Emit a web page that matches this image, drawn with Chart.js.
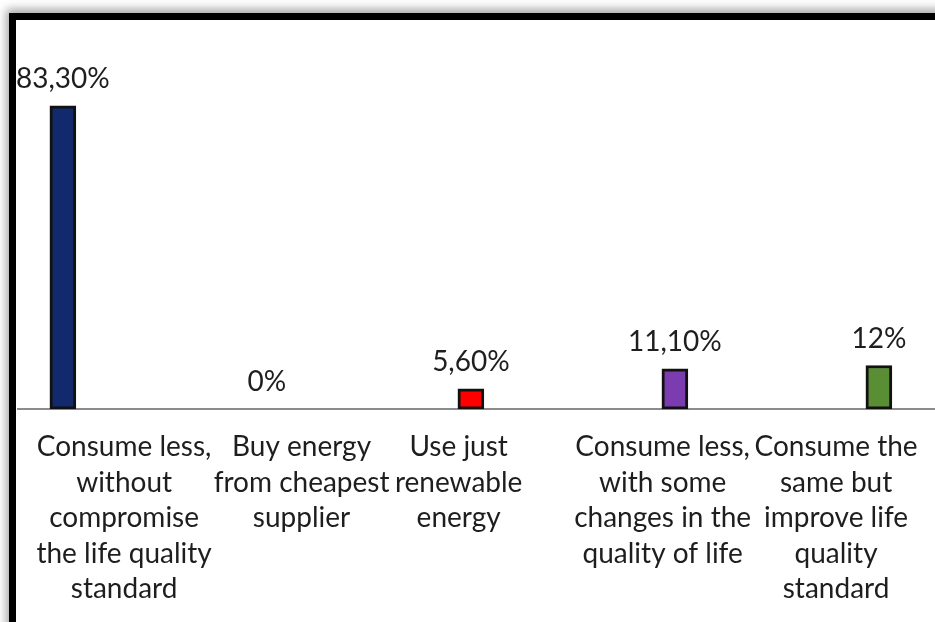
<!DOCTYPE html>
<html>
<head>
<meta charset="utf-8">
<title>Energy behaviour survey</title>
<script src="https://cdn.jsdelivr.net/npm/chart.js@4.4.1/dist/chart.umd.min.js"></script>
<style>
  html, body { margin: 0; padding: 0; background: #fff; overflow: hidden; }
  #frame {
    position: absolute; left: 9px; top: 13px; width: 1000px; height: 700px;
    border-left: 7px solid #000; border-top: 7px solid #000;
    box-shadow: -3px -4px 9px rgba(0, 0, 0, 0.35);
  }
  #chart { position: absolute; left: 0; top: 0; }
</style>
</head>
<body>
<div id="frame"></div>
<canvas id="chart" width="935" height="627"></canvas>
<script>
// answers, already wrapped the way they show under the axis
const categories = [
  ['Consume less,', 'without', 'compromise', 'the life quality', 'standard'],
  ['Buy energy', 'from cheapest', 'supplier'],
  ['Use just', 'renewable', 'energy'],
  ['Consume less,', 'with some', 'changes in the', 'quality of life'],
  ['Consume the', 'same but', 'improve life', 'quality', 'standard']
];
const values = [83.3, 0, 5.6, 11.1, 12];   // % of answers
const barColors = ['#122a6c', '#9e9e9e', '#ff0000', '#7b3cb0', '#5a8e34'];

// labels don't sit right under their bars, they get nudged to fit (category units)
const labelSpots = [0.30, 1.17, 1.94, 2.94, 3.79];

const fontFamily = 'Lato, "Open Sans", sans-serif';

function pct(v) {
  return Number.isInteger(v) ? v + '%' : v.toFixed(2).replace('.', ',') + '%';
}

// value text above every bar
const valueLabels = {
  id: 'valueLabels',
  afterDatasetsDraw(chart) {
    const ctx = chart.ctx;
    const meta = chart.getDatasetMeta(0);
    ctx.save();
    ctx.font = '28px ' + fontFamily;
    ctx.fillStyle = '#1e1e1e';
    ctx.textAlign = 'center';
    ctx.textBaseline = 'middle';
    meta.data.forEach((bar, i) => {
      ctx.fillText(pct(values[i]), bar.x, bar.y - 27);
    });
    ctx.restore();
  }
};

new Chart(document.getElementById('chart'), {
  type: 'bar',
  data: {
    datasets: [{
      data: values.map((v, i) => ({ x: i, y: v })),
      backgroundColor: barColors,
      borderColor: '#111',
      borderWidth: 3,
      borderSkipped: false,
      barThickness: 26
    }]
  },
  options: {
    responsive: false,
    animation: false,
    layout: { padding: { left: 18, top: 45, right: 0, bottom: 0 } },
    plugins: {
      legend: { display: false },
      tooltip: { enabled: false }
    },
    scales: {
      x: {
        type: 'linear',
        offset: false,
        min: -0.22,
        max: 4.275,
        grid: { display: false, drawTicks: false },
        border: { color: '#8c8c8c', width: 2 },
        afterBuildTicks: axis => {
          axis.ticks = labelSpots.map(v => ({ value: v }));
        },
        // labels stay inside the frame, no extra room needed at the ends
        afterFit: axis => {
          axis.paddingLeft = 0;
          axis.paddingRight = 0;
        },
        ticks: {
          autoSkip: false,
          maxRotation: 0,
          padding: 20,
          color: '#1e1e1e',
          font: { family: fontFamily, size: 28, lineHeight: 1.27 },
          callback: (v, i) => categories[i]
        }
      },
      y: { display: false, min: 0, max: 100 }
    }
  },
  plugins: [valueLabels]
});
</script>
</body>
</html>
